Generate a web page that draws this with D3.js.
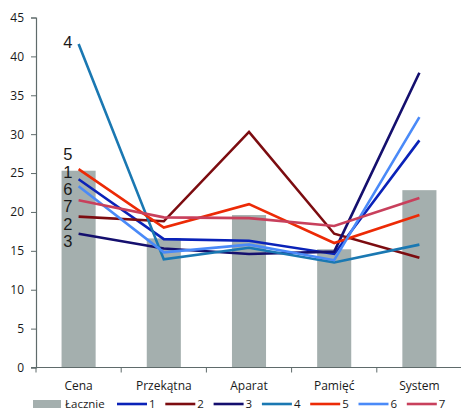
<!DOCTYPE html>
<html>
<head>
<meta charset="utf-8">
<script src="https://cdn.jsdelivr.net/npm/d3@7"></script>
<style>
  html, body { margin: 0; padding: 0; background: #fff; }
  svg { display: block; }
  text { font-family: "Open Sans", "Liberation Sans", sans-serif; fill: #1a1a1a; }
</style>
</head>
<body>
<svg id="chart" width="461" height="410"></svg>
<script>
// Categories and tick labels
const categories = ["Cena", "Przekątna", "Aparat", "Pamięć", "System"];
const yTicks = [0, 5, 10, 15, 20, 25, 30, 35, 40, 45];

// Total (bars)
const totalName = "Łacznie";
const totalValues = [25.3, 16.6, 19.6, 15.2, 22.8];

// Segment series (lines)
const seriesNames = ["1", "2", "3", "4", "5", "6", "7"];
const series1 = [24.2, 16.5, 16.3, 14.6, 29.2];
const series2 = [19.4, 18.8, 30.3, 17.2, 14.1];
const series3 = [17.2, 15.3, 14.6, 14.9, 37.9];
const series4 = [41.6, 13.9, 15.4, 13.5, 15.8];
const series5 = [25.5, 18.0, 21.0, 16.0, 19.6];
const series6 = [23.3, 14.8, 15.8, 13.8, 32.2];
const series7 = [21.5, 19.3, 19.2, 18.2, 21.8];
const seriesValues = [series1, series2, series3, series4, series5, series6, series7];

const seriesColors = ["#0a22b8", "#7c0c10", "#140f6e", "#1a78b2", "#ec2a06", "#4a8af8", "#c8405c"];
const barColor = "#a4afae";

const svg = d3.select("#chart");
const margin = { left: 36, right: 0, top: 18, bottom: 42 };
const W = 461, H = 410;

const x = d3.scaleBand()
  .domain(categories)
  .range([margin.left, margin.left + 5 * 85.2])
  .paddingInner(0.6)
  .paddingOuter(0.3);

const y = d3.scaleLinear().domain([0, 45]).range([367.5, 17.5]);
const cx = c => x(c) + x.bandwidth() / 2;

// Bars
svg.append("g").selectAll("rect")
  .data(categories.map((c, i) => ({ c, v: totalValues[i] })))
  .join("rect")
  .attr("x", d => x(d.c))
  .attr("width", x.bandwidth())
  .attr("y", d => y(d.v))
  .attr("height", d => y(0) - y(d.v))
  .attr("fill", barColor);

// Y axis
const yAxis = svg.append("g")
  .attr("transform", `translate(${margin.left},0)`)
  .call(d3.axisLeft(y).tickValues(yTicks).tickSize(5).tickPadding(7));
yAxis.select(".domain").attr("stroke", "#5f6b6b").attr("stroke-width", 1.2);
yAxis.selectAll(".tick line").attr("stroke", "#5f6b6b");
yAxis.selectAll(".tick text").style("font-size", "12px").attr("fill", "#1a1a1a");

// X axis with ticks at category boundaries
const step = x.step();
const xAxisG = svg.append("g").attr("transform", `translate(0,${y(0)})`);
xAxisG.append("line")
  .attr("x1", margin.left - 5).attr("x2", W)
  .attr("stroke", "#5f6b6b").attr("stroke-width", 1.2);
xAxisG.selectAll("line.tk")
  .data(d3.range(categories.length))
  .join("line").attr("class", "tk")
  .attr("x1", i => margin.left + i * step)
  .attr("x2", i => margin.left + i * step)
  .attr("y1", 0).attr("y2", 5)
  .attr("stroke", "#5f6b6b");
xAxisG.selectAll("text")
  .data(categories)
  .join("text")
  .attr("x", c => cx(c))
  .attr("y", 22)
  .attr("text-anchor", "middle")
  .style("font-size", "12px")
  .text(c => c);

// Lines
const line = d3.line()
  .x((d, i) => cx(categories[i]))
  .y(d => y(d));

svg.append("g").selectAll("path")
  .data(seriesValues)
  .join("path")
  .attr("d", d => line(d))
  .attr("fill", "none")
  .attr("stroke", (d, i) => seriesColors[i])
  .attr("stroke-width", 2.6)
  .attr("stroke-linejoin", "miter");

// Series labels beside the first category, stacked downward
const firstX = x(categories[0]) + x.bandwidth() * 0.32;
const order = d3.range(seriesNames.length).sort((a, b) => seriesValues[b][0] - seriesValues[a][0]);
const labelPos = [];
const highest = order[0];
labelPos.push({ i: highest, y: y(seriesValues[highest][0]) + 4 });
const rest = order.slice(1);
const stackStart = y(seriesValues[rest[0]][0]) - 9;
rest.forEach((s, k) => labelPos.push({ i: s, y: stackStart + k * 17.4 }));

svg.append("g").selectAll("text")
  .data(labelPos)
  .join("text")
  .attr("x", firstX)
  .attr("y", d => d.y)
  .attr("text-anchor", "end")
  .style("font-family", "'Liberation Sans', sans-serif")
  .style("font-size", "16.5px")
  .attr("fill", "#111")
  .text(d => seriesNames[d.i]);

// Legend
const legend = svg.append("g").attr("transform", "translate(0,404)");
legend.append("rect")
  .attr("x", 33).attr("y", -4).attr("width", 28).attr("height", 8)
  .attr("fill", barColor);
legend.append("text")
  .attr("x", 65).attr("y", 4)
  .style("font-size", "11.5px")
  .text(totalName);

const items = legend.selectAll("g.item")
  .data(seriesNames)
  .join("g").attr("class", "item")
  .attr("transform", (d, i) => `translate(${117 + i * 48.3},0)`);
items.append("line")
  .attr("x1", 0).attr("x2", 30)
  .attr("stroke", (d, i) => seriesColors[i])
  .attr("stroke-width", 2.6);
items.append("text")
  .attr("x", 32).attr("y", 4)
  .style("font-size", "11.5px")
  .text(d => d);
</script>
</body>
</html>
